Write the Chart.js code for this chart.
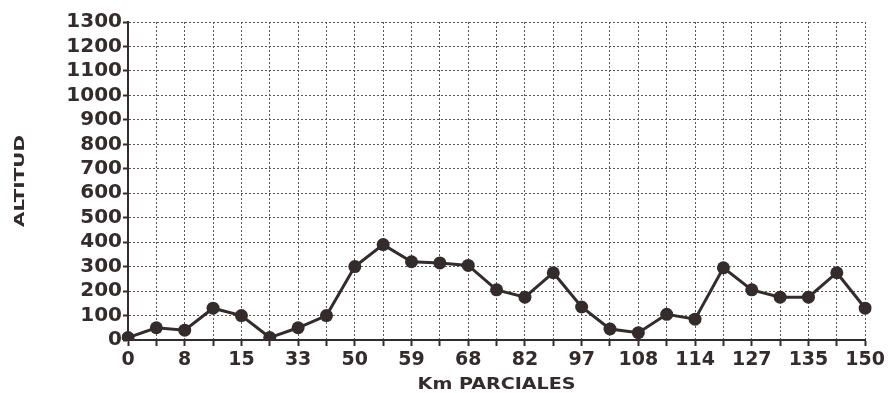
<!DOCTYPE html>
<html>
<head>
<meta charset="utf-8">
<title>Perfil de altitud</title>
<script src="https://cdn.jsdelivr.net/npm/chart.js@4/dist/chart.umd.min.js"></script>
<style>
  html, body { margin: 0; padding: 0; background: #fff; }
  #wrap { width: 888px; height: 393px; position: relative; }
</style>
</head>
<body>
<div id="wrap"><canvas id="perfil"></canvas></div>
<script>
// km labels, only every second point carries one
const kmLabels = ['0', '', '8', '', '15', '', '33', '', '50', '', '59', '', '68', '',
                  '82', '', '97', '', '108', '', '114', '', '127', '', '135', '', '150'];
const altitudes = [10, 50, 40, 130, 100, 10, 50, 100, 300, 390, 320, 315, 305, 205,
                   175, 275, 135, 45, 30, 105, 85, 295, 205, 175, 175, 275, 130];
const yMin = 0;
const yMax = 1300;
const yStep = 100;
const xTitle = 'Km PARCIALES';
const yTitle = 'ALTITUD';

const ink = '#342c2c';
const font = 'DejaVu Sans';

// axis titles in a wide bold face: text is stretched horizontally to a set width
const axisTitles = {
  id: 'axisTitles',
  afterDraw(chart) {
    const { ctx, chartArea: a } = chart;
    const drawWide = (text, size, width) => {
      ctx.font = 'bold ' + size + 'px "' + font + '"';
      const w = ctx.measureText(text).width;
      ctx.scale(width / w, 1);
      ctx.fillText(text, 0, 0);
    };
    ctx.save();
    ctx.fillStyle = ink;
    ctx.textAlign = 'center';
    ctx.textBaseline = 'middle';
    ctx.translate((a.left + a.right) / 2, 385);
    drawWide(xTitle, 16, 158);
    ctx.restore();

    ctx.save();
    ctx.fillStyle = ink;
    ctx.textAlign = 'center';
    ctx.textBaseline = 'middle';
    ctx.translate(20, 181);
    ctx.rotate(-Math.PI / 2);
    drawWide(yTitle, 14, 92);
    ctx.restore();
  }
};

new Chart(document.getElementById('perfil'), {
  type: 'line',
  data: {
    labels: kmLabels,
    datasets: [{
      data: altitudes,
      borderColor: ink,
      backgroundColor: ink,
      borderWidth: 3,
      pointRadius: 6.5,
      pointBackgroundColor: ink,
      pointBorderWidth: 0,
      tension: 0
    }]
  },
  options: {
    responsive: true,
    maintainAspectRatio: false,
    animation: false,
    layout: { padding: { top: 22, right: 22, left: 0, bottom: 0 } },
    plugins: { legend: { display: false }, tooltip: { enabled: false } },
    scales: {
      x: {
        offset: false,
        afterFit: s => { s.height = 53; },
        border: { display: true, color: ink, width: 2, dash: [2, 2] },
        grid: {
          color: '#5e5656', lineWidth: 1,
          drawTicks: true, tickLength: 6, tickColor: ink, tickWidth: 2, tickBorderDash: []
        },
        ticks: {
          autoSkip: false, maxRotation: 0, padding: 3, color: ink,
          font: { family: font, size: 19, weight: 'bold' }
        }
      },
      y: {
        min: yMin, max: yMax,
        afterFit: s => { s.width = 128; },
        border: { display: true, color: ink, width: 2, dash: [2, 2] },
        grid: {
          color: '#5e5656', lineWidth: 1,
          drawTicks: true, tickLength: 5, tickColor: ink, tickWidth: 2, tickBorderDash: []
        },
        ticks: {
          stepSize: yStep, autoSkip: false, padding: 1, color: ink,
          callback: v => String(v),
          font: { family: font, size: 20, weight: 'bold' }
        }
      }
    }
  },
  plugins: [axisTitles]
});
</script>
</body>
</html>
